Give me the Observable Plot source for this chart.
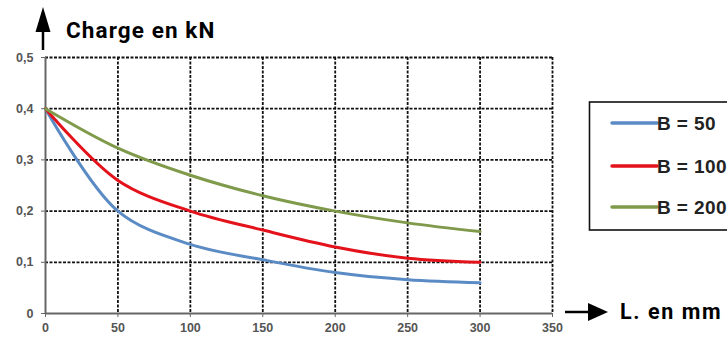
<!DOCTYPE html>
<html>
<head>
<meta charset="utf-8">
<script src="https://cdn.jsdelivr.net/npm/d3@7"></script>
<script src="https://cdn.jsdelivr.net/npm/@observablehq/plot@0.6"></script>
<style>
  html, body { margin: 0; padding: 0; background: #fff; }
  svg { display: block; }
</style>
</head>
<body>
<div id="chart"></div>
<script>
const lengths = [0, 50, 100, 150, 200, 250, 300];
const b50  = [0.40, 0.200, 0.135, 0.105, 0.080, 0.066, 0.060];
const b100 = [0.40, 0.260, 0.200, 0.163, 0.130, 0.108, 0.100];
const b200 = [0.40, 0.323, 0.270, 0.230, 0.200, 0.177, 0.160];
const seriesNames = ["B = 50", "B = 100", "B = 200"];
const seriesColors = ["#5b8bc4", "#e3121b", "#7f9a4a"];
const xTicks = [0, 50, 100, 150, 200, 250, 300, 350];
const yTicks = [0, 0.1, 0.2, 0.3, 0.4, 0.5];

const rows = [];
[b50, b100, b200].forEach((vals, i) => {
  vals.forEach((v, j) => rows.push({series: seriesNames[i], L: lengths[j], charge: v}));
});

const W = 727, H = 338;
const fmtY = d => d === 0 ? "0" : d.toFixed(1).replace(".", ",");

const plot = Plot.plot({
  width: W,
  height: H,
  marginLeft: 45,
  marginRight: 175,
  marginTop: 57,
  marginBottom: 25,
  style: {fontFamily: "'Liberation Sans', Arial, sans-serif", fontSize: "12.5px", fontWeight: "bold", color: "#555", background: "#fff"},
  x: {domain: [0, 350], ticks: xTicks, label: null},
  y: {domain: [0, 0.5], ticks: yTicks, label: null, tickFormat: fmtY},
  color: {domain: seriesNames, range: seriesColors},
  marks: [
    Plot.ruleY(yTicks.filter(d => d > 0), {stroke: "#111", strokeWidth: 1.8, strokeDasharray: "3,1.5"}),
    Plot.ruleX(xTicks.filter(d => d > 0), {stroke: "#111", strokeWidth: 1.8, strokeDasharray: "3,1.5"}),
    Plot.ruleX([0], {stroke: "#666", strokeWidth: 2}),
    Plot.ruleY([0], {stroke: "#666", strokeWidth: 2}),
    Plot.line(rows, {x: "L", y: "charge", z: "series", stroke: "series", strokeWidth: 3, curve: "catmull-rom"}),
    Plot.axisX({ticks: xTicks, tickSize: 4, tickPadding: 6, stroke: "#666", fill: "#555"}),
    Plot.axisY({ticks: yTicks, tickSize: 4, tickPadding: 8, tickFormat: fmtY, stroke: "#666", fill: "#555"})
  ]
});

document.getElementById("chart").appendChild(plot);

const svg = d3.select(plot);
const titleFont = "Roboto, 'DejaVu Sans', sans-serif";
const overlay = svg.append("g").attr("text-anchor", "start");

// Up arrow and y title
overlay.append("line").attr("x1", 43).attr("x2", 43).attr("y1", 28).attr("y2", 50)
  .attr("stroke", "#000").attr("stroke-width", 2.5);
overlay.append("path").attr("d", "M43,7 L35.5,32 L50.5,32 Z").attr("fill", "#000");
overlay.append("text").attr("x", 66).attr("y", 38).attr("text-anchor", "start")
  .attr("font-family", titleFont).attr("font-weight", "bold").attr("font-size", 22.5)
  .attr("letter-spacing", 1.1)
  .attr("fill", "#000").text("Charge en kN");

// Right arrow and x title
overlay.append("line").attr("x1", 565).attr("x2", 592).attr("y1", 312).attr("y2", 312)
  .attr("stroke", "#000").attr("stroke-width", 2.5);
overlay.append("path").attr("d", "M608,312 L588,303 L588,321 Z").attr("fill", "#000");
overlay.append("text").attr("x", 620).attr("y", 319).attr("text-anchor", "start")
  .attr("font-family", titleFont).attr("font-weight", "bold").attr("font-size", 21.5)
  .attr("letter-spacing", 1.6)
  .attr("fill", "#000").text("L. en mm");

// Legend
overlay.append("rect").attr("x", 589.5).attr("y", 102).attr("width", 160).attr("height", 128)
  .attr("fill", "#fff").attr("stroke", "#111").attr("stroke-width", 1.6);
const ly = [123, 166, 207];
seriesNames.forEach((name, i) => {
  overlay.append("line").attr("x1", 612).attr("x2", 657).attr("y1", ly[i]).attr("y2", ly[i])
    .attr("stroke", seriesColors[i]).attr("stroke-width", 3.5).attr("stroke-linecap", "round");
  overlay.append("text").attr("x", 657).attr("y", ly[i] + 6.5).attr("text-anchor", "start")
    .attr("font-family", "'Liberation Sans', Arial, sans-serif").attr("font-weight", "bold")
    .attr("font-size", 19).attr("letter-spacing", 0.4).attr("fill", "#222").text(name);
});
</script>
</body>
</html>
